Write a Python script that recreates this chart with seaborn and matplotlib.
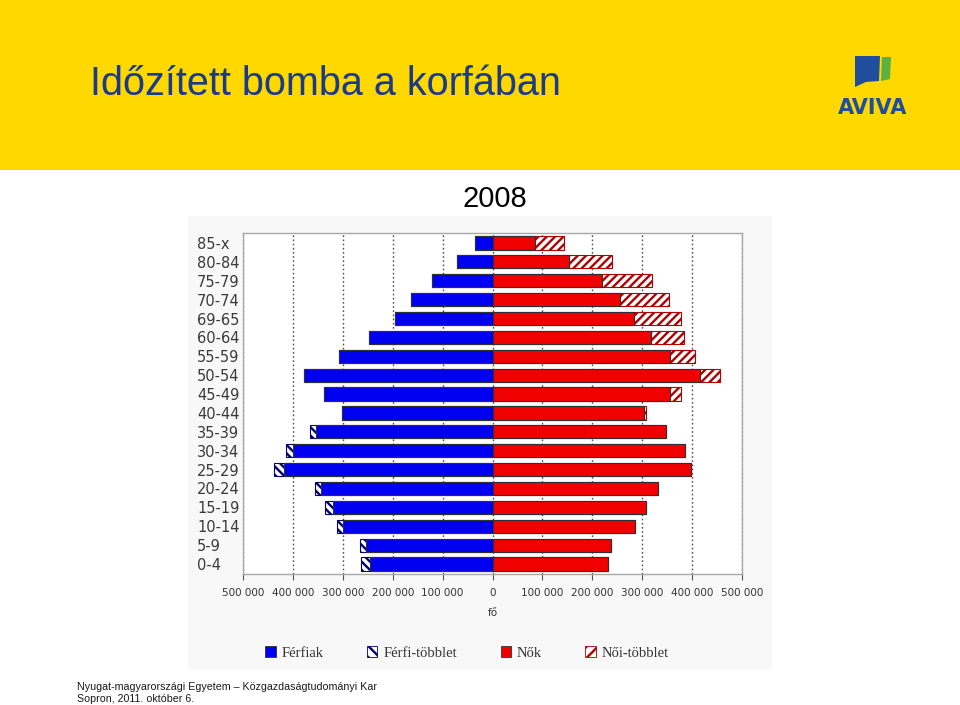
import numpy as np
import pandas as pd
import matplotlib
matplotlib.use('Agg')
import matplotlib.pyplot as plt
import seaborn as sns
from matplotlib.patches import Rectangle, Polygon, Patch
from matplotlib.ticker import FixedLocator, FuncFormatter

# ===============================
# DATA (read off the 2008 pyramid)
# ===============================
age_groups = ['85-x', '80-84', '75-79', '70-74', '69-65', '60-64',
              '55-59', '50-54', '45-49', '40-44', '35-39', '30-34',
              '25-29', '20-24', '15-19', '10-14', '5-9', '0-4']
males = [36000, 71000, 121000, 163000, 196000, 248000,
         308000, 377000, 338000, 301000, 354000, 400000,
         417000, 344000, 319000, 299000, 253000, 246000]
male_surplus = [0, 0, 0, 0, 0, 0,
                0, 0, 0, 0, 11000, 13000,
                20000, 12000, 17000, 13000, 12000, 17000]
females = [85000, 153000, 220000, 256000, 284000, 317000,
           355000, 415000, 355000, 303000, 347000, 386000,
           397000, 332000, 307000, 285000, 238000, 232000]
female_surplus = [58000, 86000, 100000, 98000, 93000, 67000,
                  51000, 40000, 22000, 4000, 0, 0,
                  0, 0, 0, 0, 0, 0]
x_ticks = [-500000, -400000, -300000, -200000, -100000, 0,
           100000, 200000, 300000, 400000, 500000]
legend_labels = ['Férfiak', 'Férfi-többlet', 'Nők', 'Női-többlet']

df = pd.DataFrame({
    'age': age_groups,
    'male': -np.array(males),
    'male_total': -(np.array(males) + np.array(male_surplus)),
    'female': np.array(females),
    'female_total': np.array(females) + np.array(female_surplus),
})

# ===============================
# STYLE
# ===============================
sns.set_style('white')
plt.rcParams['font.family'] = ['DejaVu Sans']
plt.rcParams['hatch.linewidth'] = 1.7

BLUE = '#0000F0'
RED = '#F00000'
NAVY = '#000070'
DARKRED = '#B00000'
EDGE = '#303030'
W, H = 960, 705

fig = plt.figure(figsize=(9.6, 7.05), dpi=100)
fig.patch.set_facecolor('white')


def fx(px):
    return px / W


def fy(py):
    return 1 - py / H


# yellow header band
fig.patches.append(Rectangle((0, fy(170)), 1, 170 / H, transform=fig.transFigure,
                             facecolor='#FFD800', edgecolor='none', zorder=-2))
fig.text(fx(90), fy(95), 'Időzített bomba a korfában', fontsize=28.5,
         color='#1B3A8C', family='Liberation Sans', va='baseline', ha='left')

# AVIVA logo
fig.patches.append(Polygon([(fx(855), fy(56)), (fx(880), fy(56)), (fx(879), fy(81)),
                            (fx(866), fy(82)), (fx(855), fy(87))],
                           closed=True, transform=fig.transFigure,
                           facecolor='#1F4E9C', edgecolor='none', zorder=-1))
fig.patches.append(Polygon([(fx(882), fy(57)), (fx(891), fy(57)), (fx(890), fy(79)),
                            (fx(881), fy(81))],
                           closed=True, transform=fig.transFigure,
                           facecolor='#5DB140', edgecolor='none', zorder=-1))
fig.text(fx(873), fy(114), 'AVIVA', fontsize=15, fontweight='bold',
         color='#1F4E9C', family='DejaVu Sans', ha='center', va='baseline')

# year
fig.text(fx(495), fy(207), '2008', fontsize=21, color='black',
         family='Liberation Sans', ha='center', va='baseline')

# chart image background
fig.patches.append(Rectangle((fx(188), fy(670)), fx(772 - 188), (670 - 216) / H,
                             transform=fig.transFigure, facecolor='#F8F8F8',
                             edgecolor='none', zorder=-2))

# ===============================
# PYRAMID
# ===============================
ax = fig.add_axes([fx(243), fy(574), fx(742 - 243), (574 - 233) / H])
ax.set_zorder(1)
ax.set_facecolor('white')
ax.set_axisbelow(True)

# surplus bars (hatched) first, then the base bars on top
sns.barplot(data=df, x='male_total', y='age', order=age_groups, orient='h',
            color='white', saturation=1, width=0.7, errorbar=None,
            edgecolor=NAVY, linewidth=0.8, hatch='\\\\\\\\', ax=ax)
sns.barplot(data=df, x='female_total', y='age', order=age_groups, orient='h',
            color='white', saturation=1, width=0.7, errorbar=None,
            edgecolor=DARKRED, linewidth=0.8, hatch='////', ax=ax)
sns.barplot(data=df, x='male', y='age', order=age_groups, orient='h',
            color=BLUE, saturation=1, width=0.7, errorbar=None,
            edgecolor=EDGE, linewidth=0.8, ax=ax)
sns.barplot(data=df, x='female', y='age', order=age_groups, orient='h',
            color=RED, saturation=1, width=0.7, errorbar=None,
            edgecolor=EDGE, linewidth=0.8, ax=ax)

ax.set_xlim(-500000, 500000)
ax.set_ylim(len(age_groups) - 0.47, -0.53)
ax.xaxis.set_major_locator(FixedLocator(x_ticks))
ax.xaxis.set_major_formatter(FuncFormatter(
    lambda v, p: f'{abs(int(v)):,}'.replace(',', ' ')))
ax.xaxis.grid(True, linestyle=(0, (1.2, 1.8)), color='#505050', linewidth=1)
ax.yaxis.grid(False)

for s in ax.spines.values():
    s.set_visible(True)
    s.set_color('#A8A8A8')
    s.set_linewidth(1)

ax.tick_params(axis='x', direction='out', length=4, width=0.8, color='#555555',
               pad=6, labelsize=7.5, labelcolor='#333333', bottom=True)
ax.tick_params(axis='y', length=0, pad=33, labelsize=10.5, labelcolor='#3a3a3a')
for lbl in ax.get_yticklabels():
    lbl.set_horizontalalignment('left')

ax.set_xlabel('fő', fontsize=7.5, color='#333333', labelpad=7)
ax.set_ylabel('')

# legend
handles = [
    Patch(facecolor=BLUE, edgecolor=EDGE, linewidth=0.6),
    Patch(facecolor='white', edgecolor=NAVY, hatch='\\\\\\', linewidth=0.6),
    Patch(facecolor=RED, edgecolor=EDGE, linewidth=0.6),
    Patch(facecolor='white', edgecolor=DARKRED, hatch='///', linewidth=0.6),
]
fig.legend(handles, legend_labels, loc='center', bbox_to_anchor=(fx(467), fy(653)),
           ncol=4, frameon=False, prop={'family': 'Liberation Serif', 'size': 10.5},
           handlelength=0.7, handleheight=0.7, handletextpad=0.4,
           columnspacing=3.0, labelcolor='#333333')

# footer
fig.text(fx(77), fy(690), 'Nyugat-magyarországi Egyetem – Közgazdaságtudományi Kar',
         fontsize=7.7, color='#1a1a1a', family='Liberation Sans', va='baseline')
fig.text(fx(77), fy(702), 'Sopron, 2011. október 6.',
         fontsize=7.7, color='#1a1a1a', family='Liberation Sans', va='baseline')

fig.savefig('out.png', dpi=100)
